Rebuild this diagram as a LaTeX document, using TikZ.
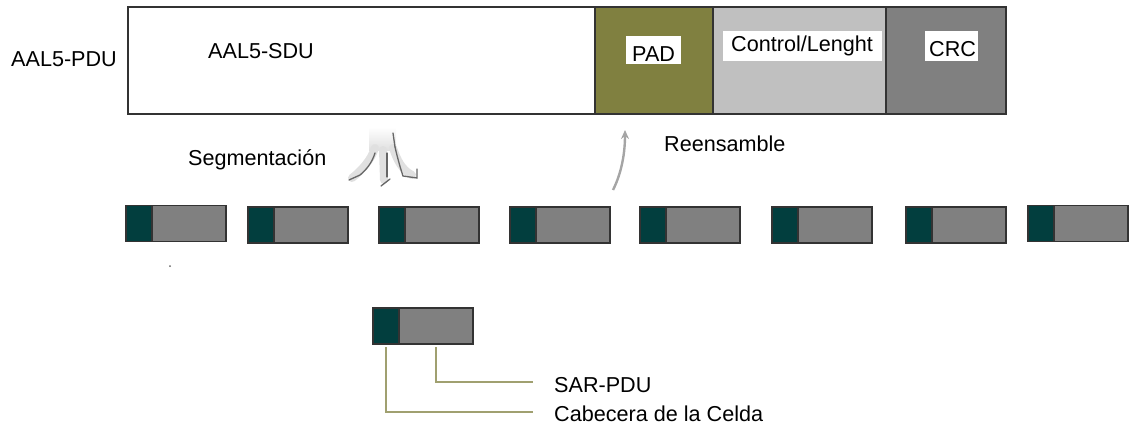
\documentclass[tikz,border=0pt]{standalone}
\usepackage{fontspec}
\setmainfont{Liberation Sans}
\usetikzlibrary{arrows.meta}
\definecolor{olivepad}{RGB}{128,128,64}
\definecolor{ctrlgray}{RGB}{192,192,192}
\definecolor{crcgray}{RGB}{128,128,128}
\definecolor{hdrteal}{RGB}{2,62,62}
\definecolor{leadercol}{RGB}{160,160,112}
\definecolor{edgecol}{RGB}{51,51,51}
\definecolor{arrowgray}{RGB}{165,165,165}
\begin{document}
\begin{tikzpicture}[x=1pt,y=-1pt,
  seg/.style={draw=edgecol, line width=1.6pt, inner sep=0, outer sep=0, anchor=north west, minimum height=107},
  hdr/.style={draw=edgecol, fill=hdrteal, line width=1.4pt, inner sep=0, outer sep=0, anchor=north west, minimum width=26, minimum height=36},
  cellbody/.style={draw=edgecol, fill=crcgray, line width=1.4pt, inner sep=0, outer sep=0, anchor=north west, minimum width=74, minimum height=36},
  lbl/.style={inner sep=0, anchor=base west, font=\fontsize{21.6}{22}\selectfont},
  wbox/.style={fill=white, inner sep=0, outer sep=0, anchor=north west},
  leader/.style={draw=leadercol, line width=1.5pt},
  darkstroke/.style={draw=black!60, line width=1.3pt, line cap=round}]
\useasboundingbox (0,0) rectangle (1129,424);
% top PDU
\node[seg, fill=white, minimum width=467] (sdu) at (128,7) {};
\node[seg, fill=olivepad, minimum width=118] (pad) at (595,7) {};
\node[seg, fill=ctrlgray, minimum width=173] (ctrl) at (713,7) {};
\node[seg, fill=crcgray, minimum width=120] (crc) at (886,7) {};
\node[wbox, minimum width=55, minimum height=28] (padbox) at (626,36) {};
\node[wbox, minimum width=159, minimum height=30] (ctrlbox) at (723,31) {};
\node[wbox, minimum width=53, minimum height=30] (crcbox) at (925,31) {};
\node[lbl] (padtxt) at (632,61.7) {PAD};
\node[lbl] (ctrltxt) at (731,51) {Control/Lenght};
\node[lbl] (crctxt) at (929,56) {CRC};
\node[lbl] (pdutxt) at (11,66) {AAL5-PDU};
\node[lbl] (sdutxt) at (208,58.5) {AAL5-SDU};
\node[lbl] (segtxt) at (188,165) {Segmentación};
\node[lbl] (reentxt) at (664,151.5) {Reensamble};
% segmentation arrow
\shade[top color=white, bottom color=black!12] (369,127) rectangle (396,150);
\draw[black!12, line width=8pt, line cap=round] (375,148) .. controls (371,160) and (362,170) .. (352,178);
\draw[black!12, line width=8pt, line cap=round] (383,150) -- (384,180);
\draw[black!12, line width=8pt, line cap=round] (393,148) .. controls (397,160) and (402,170) .. (412,175);
\draw[darkstroke] (375,153) .. controls (372,163) and (366,170) .. (360,175) -- (349,180);
\draw[darkstroke] (387,153) -- (387,177);
\draw[darkstroke] (381,186) -- (390,179);
\draw[darkstroke] (393,133) -- (395,147);
\draw[darkstroke] (395,147) .. controls (398,160) and (401,170) .. (403,176) -- (417,178) -- (417,169);
% reassembly arrow
\coordinate (reenbot) at (613,190);
\coordinate (reentop) at (625,130);
\draw[arrowgray, line width=2.4pt, -{Stealth[length=9pt,width=8pt]}] (reenbot) .. controls (622,172) and (625,152) .. (reentop);
% cells
\foreach \i/\x/\y in {1/126/205.5,2/248/207,3/379/207,4/510/207,5/640/207,6/772/207,7/906/207,8/1028/205.5}{
  \node[hdr] (h\i) at (\x,\y) {};
  \node[cellbody] (b\i) at (h\i.north east) {};
}
\fill[black!60] (170,266) circle (1pt);
% legend cell
\node[hdr] (h0) at (373,308) {};
\node[cellbody] (b0) at (h0.north east) {};
\coordinate (sarend) at (533,382);
\coordinate (cabend) at (533,412);
\draw[leader] ([yshift=-3pt]b0.south) |- (sarend);
\draw[leader] ([yshift=-3pt]h0.south) |- (cabend);
\node[lbl] (sartxt) at (554,392) {SAR-PDU};
\node[lbl] (cabtxt) at (554,421) {Cabecera de la Celda};
\end{tikzpicture}
\end{document}
